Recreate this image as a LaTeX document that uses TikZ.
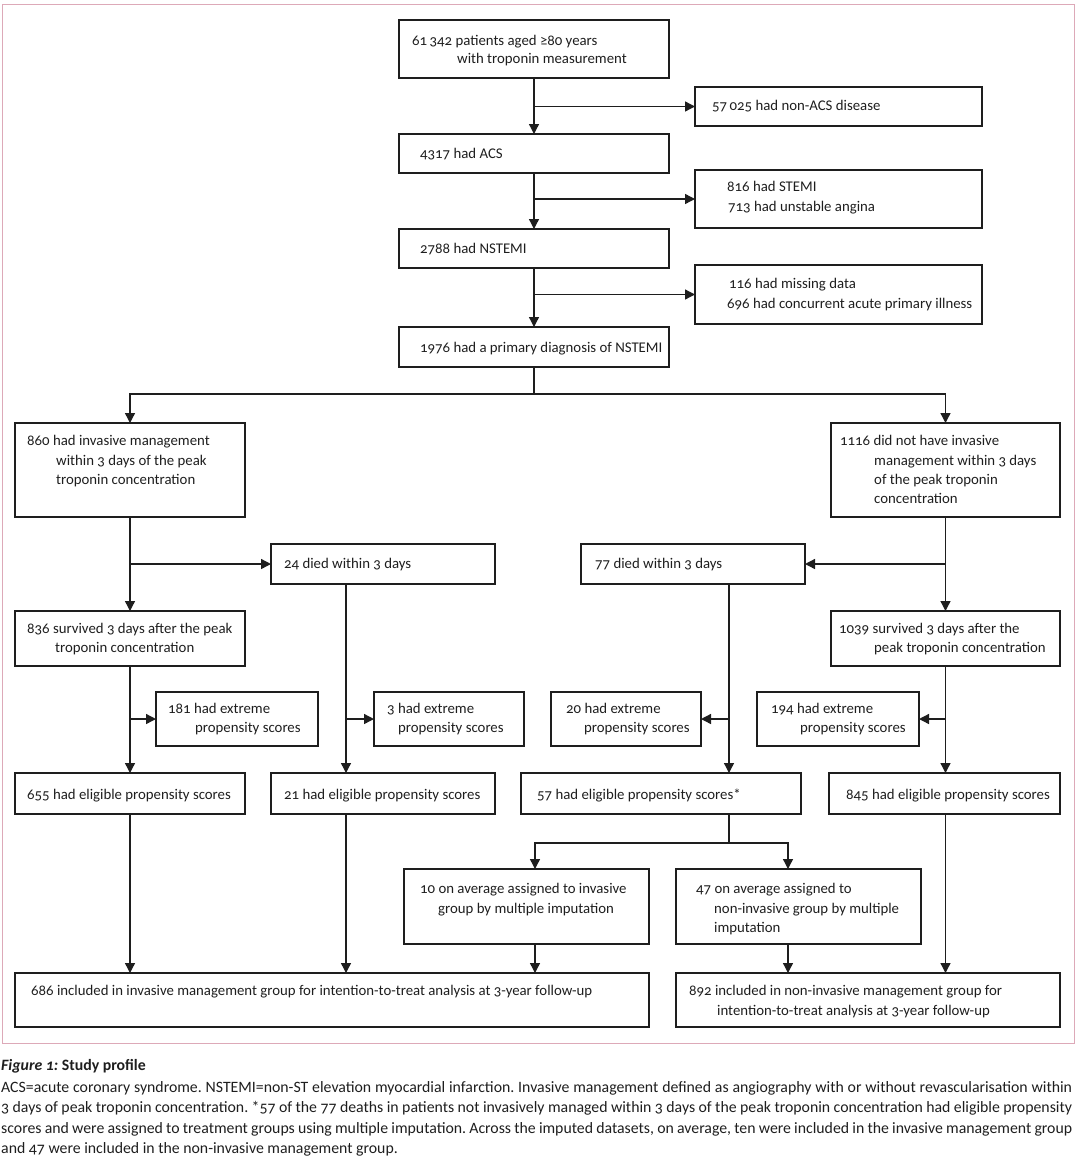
\documentclass[tikz,border=0pt]{standalone}
\usepackage{fontspec}
\setmainfont{Carlito}[Numbers=OldStyle]
\usetikzlibrary{arrows.meta,calc}
\definecolor{framec}{HTML}{DDA9B8}
\definecolor{ink}{HTML}{1E1E1E}
\newcommand\mybox[5]{\node[box, minimum width={#4-#2}, minimum height={#5-#3}] (#1) at ({(#2+#4)/2},{(#3+#5)/2}) {};}
\newcommand\myline[4]{\node[txt] (#1) at (#2,{#3+5}) {#4};}
\frenchspacing
\begin{document}
\begin{tikzpicture}[x=1pt,y=-1pt,
 box/.style={draw=ink, line width=1.35pt, rectangle, inner sep=0pt, outer sep=0pt},
 arr/.style={draw=ink, line width=1.35pt, -{Triangle[length=10pt,width=10pt]}},
 ln/.style={draw=ink, line width=1.35pt},
 txt/.style={anchor=base west, inner sep=0pt, font=\fontsize{14.8}{17}\selectfont, text=ink},
 captxt/.style={anchor=base west, inner sep=0pt, font=\fontsize{15.8}{18}\selectfont, text=ink},
]
\useasboundingbox (0,0) rectangle (1080,1165);
\draw[framec, line width=1pt] (2,4) rectangle (1074,1043);

% boxes
\mybox{b1}{399}{20}{669}{78}
\mybox{b2}{695}{87}{982}{126}
\mybox{b3}{399}{134}{669}{173}
\mybox{b4}{695}{170}{982}{228}
\mybox{b5}{399}{229}{669}{268}
\mybox{b6}{695}{265}{982}{324}
\mybox{b7}{399}{327}{669}{367}
\mybox{b8}{15}{423}{245}{517}
\mybox{b9}{831}{423}{1060}{517}
\mybox{b10}{271}{544}{495}{584}
\mybox{b11}{581}{544}{805}{584}
\mybox{b12}{15}{611}{245}{666}
\mybox{b13}{831}{611}{1060}{666}
\mybox{b14}{156}{692}{318}{746}
\mybox{b15}{374}{692}{524}{746}
\mybox{b16}{551}{692}{701}{746}
\mybox{b17}{757}{692}{919}{746}
\mybox{b18}{15}{773}{245}{814}
\mybox{b19}{271}{773}{495}{814}
\mybox{b20}{521}{773}{801}{814}
\mybox{b21}{829}{773}{1060}{814}
\mybox{b22}{404}{869}{649}{944}
\mybox{b23}{676}{869}{921}{944}
\mybox{b24}{15}{973}{649}{1027}
\mybox{b25}{676}{973}{1060}{1027}

% texts
\myline{t1a}{412}{40}{61\,342 patients aged ≥80 years}
\myline{t1b}{457}{58}{with troponin measurement}
\myline{t2}{712}{105}{57\,025 had non-ACS disease}
\myline{t3}{420}{153}{4317 had ACS}
\myline{t4a}{727}{186}{816 had STEMI}
\myline{t4b}{728}{206}{713 had unstable angina}
\myline{t5}{420}{248}{2788 had NSTEMI}
\myline{t6a}{729}{283}{116 had missing data}
\myline{t6b}{727}{303}{696 had concurrent acute primary illness}
\myline{t7}{420}{347}{1976 had a primary diagnosis of NSTEMI}
\myline{t8a}{27}{440}{860 had invasive management}
\myline{t8b}{56}{460}{within 3 days of the peak}
\myline{t8c}{56}{479}{troponin concentration}
\myline{t9a}{840}{440}{1116 did not have invasive}
\myline{t9b}{874}{460}{management within 3 days}
\myline{t9c}{874}{479}{of the peak troponin}
\myline{t9d}{874}{498}{concentration}
\myline{t10}{284}{563}{24 died within 3 days}
\myline{t11}{595}{563}{77 died within 3 days}
\myline{t12a}{27}{628}{836 survived 3 days after the peak}
\myline{t12b}{55}{647}{troponin concentration}
\myline{t13a}{839}{628}{1039 survived 3 days after the}
\myline{t13b}{874}{647}{peak troponin concentration}
\myline{t14a}{168}{708}{181 had extreme}
\myline{t14b}{195}{727}{propensity scores}
\myline{t15a}{387}{708}{3 had extreme}
\myline{t15b}{398}{727}{propensity scores}
\myline{t16a}{566}{708}{20 had extreme}
\myline{t16b}{584}{727}{propensity scores}
\myline{t17a}{771}{708}{194 had extreme}
\myline{t17b}{800}{727}{propensity scores}
\myline{t18}{27}{794}{655 had eligible propensity scores}
\myline{t19}{284}{794}{21 had eligible propensity scores}
\myline{t20}{537}{794}{57 had eligible propensity scores*}
\myline{t21}{846}{794}{845 had eligible propensity scores}
\myline{t22a}{420}{888}{10 on average assigned to invasive}
\myline{t22b}{438}{908}{group by multiple imputation}
\myline{t23a}{696}{888}{47 on average assigned to}
\myline{t23b}{714}{908}{non-invasive group by multiple}
\myline{t23c}{714}{927}{imputation}
\myline{t24}{31}{990}{686 included in invasive management group for intention-to-treat analysis at 3-year follow-up}
\myline{t25a}{689}{990}{892 included in non-invasive management group for}
\myline{t25b}{717}{1010}{intention-to-treat analysis at 3-year follow-up}

% connectors: top spine
\draw[arr] (b1.south) -- (b3.north);
\draw[arr] (b2.west -| b1.south) -- (b2.west);
\draw[arr] (b3.south) -- (b5.north);
\draw[arr] (b4.west -| b3.south) -- (b4.west);
\draw[arr] (b5.south) -- (b7.north);
\draw[arr] (b6.west -| b5.south) -- (b6.west);
\coordinate (br) at ($(b7.south)+(0,27)$);
\draw[ln] (b7.south) -- (br);
\draw[arr] (br) -| (b8.north);
\draw[arr] (br) -| (b9.north);

% left column
\draw[arr] (b8.south) -- (b12.north);
\draw[arr] (b10.west -| b8.south) -- (b10.west);
\draw[arr] (b12.south) -- (b18.north);
\draw[arr] (b14.west -| b12.south) -- (b14.west);
\draw[arr] (b18.south) -- (b18.south |- b24.north);
\coordinate (c10) at ([xshift=75pt]b10.south west);
\draw[arr] (c10) -- (c10 |- b19.north);
\draw[arr] (c10 |- b15.west) -- (b15.west);
\draw[arr] (c10 |- b19.south) -- (c10 |- b24.north);

% right column
\coordinate (c9) at (b9.south);
\draw[arr] (c9) -- (b13.north);
\draw[arr] (b11.east -| c9) -- (b11.east);
\draw[arr] (b13.south) -- (c9 |- b21.north);
\draw[arr] (b17.east -| c9) -- (b17.east);
\draw[arr] (c9 |- b21.south) -- (c9 |- b25.north);
\coordinate (c11) at ([xshift=148pt]b11.south west);
\draw[arr] (c11) -- (c11 |- b20.north);
\draw[arr] (c11 |- b16.east) -- (b16.east);

% split of 57
\coordinate (c20) at (c11 |- b20.south);
\coordinate (sp) at ($(c20)+(0,29)$);
\coordinate (c22) at ([xshift=131pt]b22.north west);
\coordinate (c23) at ([xshift=112pt]b23.north west);
\draw[ln] (c20) -- (sp);
\draw[arr] (sp) -| (c22);
\draw[arr] (sp) -| (c23);
\draw[arr] (c22 |- b22.south) -- (c22 |- b24.north);
\draw[arr] (c23 |- b23.south) -- (c23 |- b25.north);

% caption
\node[captxt] (ct) at (1,1070) {\textbf{\textit{Figure 1:} Study profile}};
\node[captxt] (c1) at (1,1092) {\makebox[1071pt][s]{ACS=acute coronary syndrome. NSTEMI=non-ST elevation myocardial infarction. Invasive management defined as angiography with or without revascularisation within}};
\node[captxt] (c2) at (1,1112) {\makebox[1071pt][s]{3 days of peak troponin concentration. *57 of the 77 deaths in patients not invasively managed within 3 days of the peak troponin concentration had eligible propensity}};
\node[captxt] (c3) at (1,1133) {\makebox[1071pt][s]{scores and were assigned to treatment groups using multiple imputation. Across the imputed datasets, on average, ten were included in the invasive management group}};
\node[captxt] (c4) at (1,1153) {and 47 were included in the non-invasive management group.};
\end{tikzpicture}
\end{document}
